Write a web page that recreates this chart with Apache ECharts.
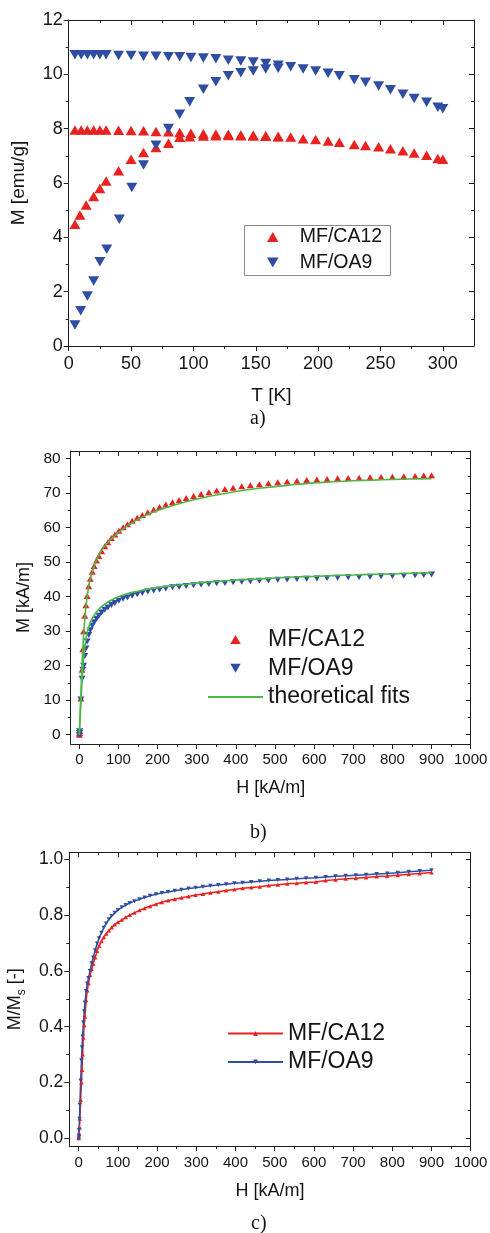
<!DOCTYPE html>
<html><head><meta charset="utf-8">
<script src="https://cdn.jsdelivr.net/npm/echarts@6/dist/echarts.min.js"></script>
<style>html,body{margin:0;padding:0;background:#fff}#c{width:490px;height:1233px}</style>
</head><body><div id="c"></div>
<script>
// ---------- Panel a : M(T) ----------
const aCaFcT = [5,10,15,20,25,30,40,50,60,70,80,89,98,108,118,128,138,148,158,168,178,188,198,208,217,229,238,248.5,258,268,277,287,296,300];
const aCaFcM = [7.95,7.95,7.95,7.95,7.95,7.95,7.94,7.93,7.92,7.90,7.89,7.86,7.83,7.81,7.80,7.79,7.77,7.76,7.74,7.71,7.69,7.63,7.60,7.55,7.50,7.42,7.38,7.33,7.26,7.19,7.10,7.02,6.90,6.87];
const aCaZfcT = [5,9,14,20,25,30,40,50,60,70,80,89,97,108,118,128,138,148,158,168];
const aCaZfcM = [4.48,4.82,5.19,5.50,5.80,6.07,6.45,6.87,7.12,7.31,7.46,7.68,7.70,7.73,7.74,7.75,7.74,7.73,7.72,7.70];
const aOaFcT = [5,10,15,20,25,30,40,50,60,70,80,89,98,108,118,128,138,148,158,168,178,188,198,208,217,229,238,248.5,258,268,277,287,296,300];
const aOaFcM = [10.72,10.72,10.72,10.72,10.72,10.72,10.69,10.69,10.67,10.67,10.65,10.65,10.62,10.60,10.57,10.52,10.49,10.45,10.40,10.33,10.28,10.20,10.12,10.04,9.95,9.80,9.71,9.57,9.43,9.27,9.11,8.97,8.79,8.73];
const aOaZfcT = [5,9.6,15,20,25,30.5,40.6,50.6,60,70,80,89,97,108,118,128,138,148,158,168];
const aOaZfcM = [0.77,1.30,1.84,2.39,3.10,3.56,4.67,5.83,6.66,7.39,8.01,8.53,8.99,9.45,9.73,9.95,10.06,10.12,10.20,10.22];
const aXTicks = [0,50,100,150,200,250,300];
const aXMinor = [25,75,125,175,225,275];
const aYTicks = [0,2,4,6,8,10,12];
const aYMinor = [1,3,5,7,9,11];

// ---------- Panel b : M(H) ----------
const bH = [0,0.5,1,4,7,9,11,14,17,20,24,28,33,38,44,50,57,65,73,82,91,101,112,123,135,148,161,175,190,205,221,238,255,273,292,311,331,351,372,393,415,437,460,483,507,531,556,581,607,633,660,687,715,743,771,800,829,858,880,900];
const bCaM = [0,0.5,1.0,10.5,18.8,24.8,30.0,34.5,37.5,40.2,43.0,45.2,47.2,48.9,50.5,51.8,53.2,54.6,55.8,57.0,58.0,59.1,60.1,61.0,62.0,62.9,63.7,64.5,65.3,66.0,66.7,67.4,68.0,68.6,69.2,69.8,70.3,70.8,71.2,71.6,72.0,72.3,72.6,72.9,73.2,73.4,73.6,73.8,74.0,74.1,74.3,74.4,74.5,74.6,74.7,74.8,74.9,75.0,75.1,75.2];
const bOaM = [0,0.5,1.0,10.2,16.2,18.8,20.0,22.8,25.0,27.0,28.9,30.3,31.6,32.6,33.6,34.5,35.4,36.2,36.9,37.6,38.2,38.8,39.4,39.8,40.3,40.7,41.1,41.5,41.8,42.1,42.4,42.7,42.9,43.1,43.3,43.5,43.7,43.9,44.0,44.2,44.3,44.5,44.6,44.7,44.9,45.0,45.1,45.2,45.3,45.4,45.5,45.6,45.7,45.8,45.9,46.0,46.1,46.2,46.3,46.4];
const bFitH = [0,2,4,6,8,10,13,16,20,25,30,40,50,60,75,90,110,130,150,175,200,250,300,350,400,450,500,550,600,650,700,750,800,850,900];
const bCaFit = [0,6,12,17.5,22.5,27,32,36,40,43.5,46,49.5,52,54,56,57.6,59.5,61,62.4,63.8,65,66.8,68.3,69.5,70.5,71.3,71.9,72.5,73.0,73.3,73.6,73.8,74.0,74.1,74.2];
const bOaFit = [0,4.5,9,13.5,17.5,21,24.5,27,29.5,31.5,33,35,36.4,37.4,38.6,39.5,40.4,41.1,41.6,42.2,42.6,43.3,43.9,44.4,44.8,45.1,45.4,45.7,45.9,46.1,46.3,46.5,46.6,46.8,46.9];
const bXTicks = [0,100,200,300,400,500,600,700,800,900,1000];
const bXMinor = [50,150,250,350,450,550,650,750,850,950];
const bYTicks = [0,10,20,30,40,50,60,70,80];
const bYMinor = [5,15,25,35,45,55,65,75];

// ---------- Panel c : M/Ms(H) ----------
const cH = [0,0.5,1,2,3,5,7,8.5,10,12,14,16,19,22,25,29,33,37,42,47,52,58,64,70,77,84,92,100,110,120,130,142,155,168,182,197,212,228,245,262,280,298,317,336,356,376,397,418,440,462,485,508,532,556,580,605,630,655,681,707,733,760,787,814,842,870,900];
const cCa = [0,0.005,0.015,0.04,0.07,0.137,0.20,0.245,0.30,0.36,0.405,0.436,0.495,0.53,0.556,0.585,0.607,0.626,0.648,0.671,0.690,0.706,0.721,0.733,0.745,0.756,0.766,0.774,0.783,0.792,0.800,0.808,0.817,0.825,0.832,0.839,0.846,0.852,0.857,0.862,0.867,0.872,0.876,0.880,0.884,0.888,0.892,0.896,0.899,0.902,0.906,0.909,0.912,0.914,0.917,0.919,0.924,0.927,0.930,0.932,0.935,0.938,0.940,0.943,0.946,0.949,0.953];
const cOa = [0,0.01,0.03,0.07,0.12,0.207,0.28,0.326,0.365,0.415,0.455,0.487,0.528,0.555,0.575,0.60,0.627,0.648,0.674,0.698,0.717,0.737,0.755,0.770,0.785,0.797,0.808,0.818,0.828,0.836,0.843,0.850,0.857,0.863,0.869,0.875,0.879,0.883,0.887,0.891,0.895,0.898,0.902,0.905,0.908,0.911,0.914,0.916,0.919,0.921,0.924,0.926,0.928,0.930,0.932,0.934,0.937,0.939,0.941,0.943,0.945,0.947,0.949,0.952,0.955,0.958,0.961];
const cXTicks = [0,100,200,300,400,500,600,700,800,900,1000];
const cXMinor = [50,150,250,350,450,550,650,750,850,950];
const cYTicks = [0,0.2,0.4,0.6,0.8,1.0];
const cYMinor = [0.1,0.3,0.5,0.7,0.9];

// ---------- styling ----------
const RED = '#E8221F', BLUE = '#2F4DA3', GREEN = '#4DB748', AX = '#1e1e1e', TXT = '#141414';
const FONT = '"Liberation Sans", Arial, sans-serif';
const UP = 'path://M5,0L10,8.66L0,8.66Z';
const DOWN = 'path://M0,0L10,0L5,8.66Z';
const zip = (xs, ys) => xs.map((x, i) => [x, ys[i]]);

function axesFor(g, o) {
  const base = (pos) => ({gridIndex: g, type: 'value', min: o.min, max: o.max, position: pos,
    splitLine: {show: false}, axisLabel: {show: false}, axisTick: {show: false},
    axisLine: {show: false, onZero: false, lineStyle: {color: AX, width: 1}}, z: 5});
  const tick = (vals, len, inside) => ({show: true, inside: inside, length: len, customValues: vals, lineStyle: {color: AX, width: 1}});
  const main = base(o.pos);
  main.axisLine.show = true;
  main.axisTick = tick(o.major, 5, false);
  main.axisLabel = {show: true, customValues: o.major, fontSize: o.fs, margin: o.margin, color: TXT, fontFamily: FONT, formatter: o.fmt || (v => String(v))};
  main.name = o.name; main.nameLocation = 'middle'; main.nameGap = o.nameGap;
  main.nameTextStyle = Object.assign({fontSize: o.nfs, color: TXT, fontFamily: FONT}, o.nameStyle || {});
  const minor = base(o.pos); minor.axisTick = tick(o.minor, 3, false);
  const opp = base(o.opp); opp.axisLine.show = true; opp.axisTick = tick(o.major, 5, true);
  const oppMinor = base(o.opp); oppMinor.axisTick = tick(o.minor, 3, true);
  return [main, minor, opp, oppMinor];
}

const xAxes = [].concat(
  axesFor(0, {pos: 'bottom', opp: 'top', min: 0, max: 325, major: aXTicks, minor: aXMinor, fs: 18, margin: 9, name: 'T [K]', nameGap: 40, nfs: 19}),
  axesFor(1, {pos: 'bottom', opp: 'top', min: -22, max: 1000, major: bXTicks, minor: bXMinor, fs: 15, margin: 8, name: 'H [kA/m]', nameGap: 35, nfs: 18}),
  axesFor(2, {pos: 'bottom', opp: 'top', min: -24, max: 1000, major: cXTicks, minor: cXMinor, fs: 15, margin: 9, name: 'H [kA/m]', nameGap: 36, nfs: 18})
);
const yAxes = [].concat(
  axesFor(0, {pos: 'left', opp: 'right', min: 0, max: 12, major: aYTicks, minor: aYMinor, fs: 18, margin: 6, name: 'M [emu/g]', nameGap: 40, nfs: 19}),
  axesFor(1, {pos: 'left', opp: 'right', min: -2.7, max: 82.23, major: bYTicks, minor: bYMinor, fs: 15.5, margin: 10, name: 'M [kA/m]', nameGap: 36, nfs: 18}),
  axesFor(2, {pos: 'left', opp: 'right', min: -0.0276, max: 1.0251, major: cYTicks, minor: cYMinor, fs: 17.5, margin: 6, fmt: v => v.toFixed(1),
    name: '{n|M/M}{s|s}{n| [-]}', nameGap: 42, nfs: 18,
    nameStyle: {rich: {n: {fontSize: 18, fontFamily: FONT, color: TXT}, s: {fontSize: 12, fontFamily: FONT, color: TXT, verticalAlign: 'bottom', padding: [0, 0, -4, 0]}}}})
);

const legendText = {fontFamily: FONT, color: TXT};
const option = {
  animation: false,
  backgroundColor: '#fff',
  grid: [
    {left: 68.7, top: 20, width: 405.3, height: 326, outerBoundsMode: 'none'},
    {left: 70.7, top: 451, width: 400, height: 293, outerBoundsMode: 'none'},
    {left: 69.3, top: 852.3, width: 401.4, height: 293.7, outerBoundsMode: 'none'}
  ],
  xAxis: xAxes,
  yAxis: yAxes,
  legend: [
    {data: ['a:MF/CA12', 'a:MF/OA9'], orient: 'vertical', left: 267, top: 227, padding: 0,
      itemWidth: 44, itemHeight: 10, itemGap: 5.5, symbolKeepAspect: true,
      textStyle: Object.assign({fontSize: 19.5}, legendText), formatter: n => n.slice(2), selectedMode: false},
    {data: ['b:MF/CA12', 'b:MF/OA9', {name: 'b:theoretical fits', icon: 'path://M0,0L55,0L55,2L0,2Z'}], orient: 'vertical', left: 208, top: 628, padding: 0,
      itemWidth: 55, itemHeight: 9, itemGap: 5.8, symbolKeepAspect: true,
      textStyle: Object.assign({fontSize: 23}, legendText), formatter: n => n.slice(2), selectedMode: false},
    {data: ['c:MF/CA12', 'c:MF/OA9'], orient: 'vertical', left: 227, top: 1022, padding: 0,
      itemWidth: 55, itemHeight: 6, itemGap: 5.4, symbolKeepAspect: true,
      textStyle: Object.assign({fontSize: 23}, legendText), formatter: n => n.slice(2), selectedMode: false}
  ],
  graphic: [
    {type: 'rect', left: 242, top: 223, z: 10, shape: {width: 146, height: 50}, style: {fill: 'none', stroke: '#8a8a8a', lineWidth: 1}},
    {type: 'text', left: 250, top: 409, style: {text: 'a)', font: '20px "Liberation Serif", serif', fill: TXT}},
    {type: 'text', left: 250, top: 823, style: {text: 'b)', font: '20px "Liberation Serif", serif', fill: TXT}},
    {type: 'text', left: 251, top: 1214, style: {text: 'c)', font: '20px "Liberation Serif", serif', fill: TXT}}
  ],
  series: [
    {name: 'a:MF/CA12', type: 'scatter', xAxisIndex: 0, yAxisIndex: 0, symbol: UP, symbolSize: [11, 9.5],
      itemStyle: {color: RED, opacity: 1}, data: zip(aCaFcT, aCaFcM).concat(zip(aCaZfcT, aCaZfcM))},
    {name: 'a:MF/OA9', type: 'scatter', xAxisIndex: 0, yAxisIndex: 0, symbol: DOWN, symbolSize: [11, 9.5],
      itemStyle: {color: BLUE, opacity: 1}, data: zip(aOaFcT, aOaFcM).concat(zip(aOaZfcT, aOaZfcM))},
    {name: 'b:MF/CA12', type: 'scatter', xAxisIndex: 4, yAxisIndex: 4, symbol: UP, symbolSize: [7, 6],
      itemStyle: {color: RED, opacity: 1}, data: zip(bH, bCaM)},
    {name: 'b:MF/OA9', type: 'scatter', xAxisIndex: 4, yAxisIndex: 4, symbol: DOWN, symbolSize: [7, 6],
      itemStyle: {color: BLUE, opacity: 1}, data: zip(bH, bOaM)},
    {name: 'b:theoretical fits', type: 'line', xAxisIndex: 4, yAxisIndex: 4, symbol: 'none', smooth: 0.3,
      itemStyle: {color: GREEN}, lineStyle: {color: GREEN, width: 1.6}, data: zip(bFitH, bCaFit)},
    {name: 'b:theoretical fits', type: 'line', xAxisIndex: 4, yAxisIndex: 4, symbol: 'none', smooth: 0.3,
      itemStyle: {color: GREEN}, lineStyle: {color: GREEN, width: 1.6}, data: zip(bFitH, bOaFit)},
    {name: 'c:MF/CA12', type: 'line', xAxisIndex: 8, yAxisIndex: 8, symbol: UP, symbolSize: [4.5, 4], showSymbol: true,
      itemStyle: {color: RED}, lineStyle: {color: RED, width: 1.5}, data: zip(cH, cCa)},
    {name: 'c:MF/OA9', type: 'line', xAxisIndex: 8, yAxisIndex: 8, symbol: DOWN, symbolSize: [4.5, 4], showSymbol: true,
      itemStyle: {color: BLUE}, lineStyle: {color: BLUE, width: 1.5}, data: zip(cH, cOa)}
  ]
};
const chart = echarts.init(document.getElementById('c'), null, {renderer: 'canvas'});
chart.setOption(option);
</script>
</body></html>
